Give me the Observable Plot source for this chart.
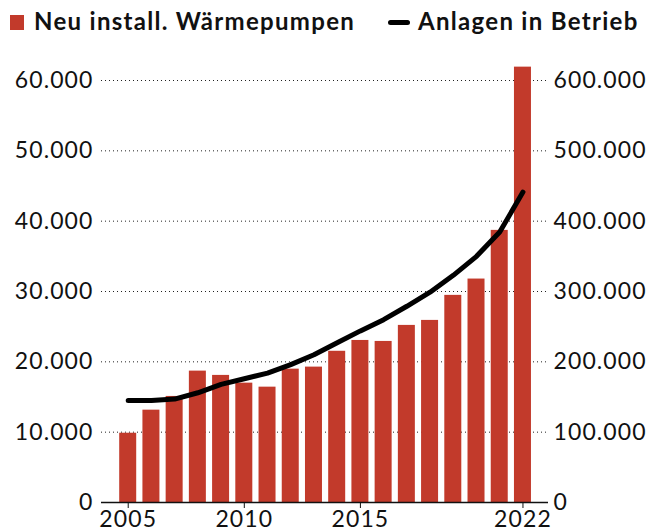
<!DOCTYPE html>
<html>
<head>
<meta charset="utf-8">
<script src="https://cdn.jsdelivr.net/npm/d3@7"></script>
<script src="https://cdn.jsdelivr.net/npm/@observablehq/plot@0.6"></script>
<style>
  body { margin: 0; background: #fff; font-family: Lato, "Open Sans", sans-serif; }
  #legend { position: relative; height: 48px; width: 654px; }
  .lg { position: absolute; font-weight: 700; font-size: 24px; letter-spacing: 1.3px; color: #111; top: 6px; white-space: nowrap; }
  .sw { position: absolute; }
</style>
</head>
<body>
<div id="legend">
  <div class="sw" style="left:10px; top:15px; width:14px; height:15px; background:#c23a2b;"></div>
  <div class="lg" style="left:34px;">Neu install. Wärmepumpen</div>
  <div class="sw" style="left:388px; top:20px; width:22px; height:5px; border-radius:3px; background:#000;"></div>
  <div class="lg" style="left:418px;">Anlagen in Betrieb</div>
</div>
<div id="chart"></div>
<script>
const years = [2005, 2006, 2007, 2008, 2009, 2010, 2011, 2012, 2013, 2014, 2015, 2016, 2017, 2018, 2019, 2020, 2021, 2022];
const newInstalled = [9850, 13130, 15080, 18680, 18070, 16970, 16400, 18960, 19250, 21500, 23040, 22900, 25180, 25890, 29450, 31770, 38690, 61900];
const inOperation = [145000, 145000, 147000, 156000, 168000, 176000, 184000, 196000, 210000, 227000, 244000, 260000, 279000, 299000, 323000, 350000, 384500, 441400];
const leftTicks = [0, 10000, 20000, 30000, 40000, 50000, 60000];
const xTicks = [2005, 2010, 2015, 2022];

const data = years.map((y, i) => ({year: y, installed: newInstalled[i], operating: inOperation[i]}));
const de = d3.formatLocale({decimal: ",", thousands: ".", grouping: [3], currency: ["", " €"]});
const fmt = de.format(",");

const chart = Plot.plot({
  width: 654,
  height: 483,
  marginTop: 32,
  marginBottom: 29,
  marginLeft: 101,
  marginRight: 106,
  style: {fontFamily: "Lato, 'Open Sans', sans-serif", fontSize: "23px", letterSpacing: "1.1px", color: "#111", background: "#fff"},
  x: {type: "linear", domain: [2003.85, 2023.1]},
  y: {domain: [0, 60000]},
  marks: [
    Plot.gridY(leftTicks.filter(d => d > 0), {stroke: "#222", strokeOpacity: 1, strokeDasharray: "1,3", strokeWidth: 1}),
    Plot.rectY(data, {x1: d => d.year - 0.366, x2: d => d.year + 0.366, y: "installed", fill: "#c23a2b"}),
    Plot.ruleY([0], {stroke: "#111", strokeWidth: 1.5}),
    Plot.lineY(data, {x: "year", y: d => d.operating / 10, stroke: "#000", strokeWidth: 5, strokeLinecap: "round", strokeLinejoin: "round"}),
    Plot.axisY(leftTicks, {anchor: "left", tickSize: 0, tickPadding: 8, tickFormat: fmt, label: null}),
    Plot.axisY(leftTicks, {anchor: "right", tickSize: 0, tickPadding: 5, tickFormat: d => fmt(d * 10), label: null}),
    Plot.axisX(xTicks, {anchor: "bottom", tickSize: 6, tickPadding: 2, tickFormat: d => String(d), label: null, stroke: "#111"})
  ]
});
document.getElementById("chart").appendChild(chart);
</script>
</body>
</html>
